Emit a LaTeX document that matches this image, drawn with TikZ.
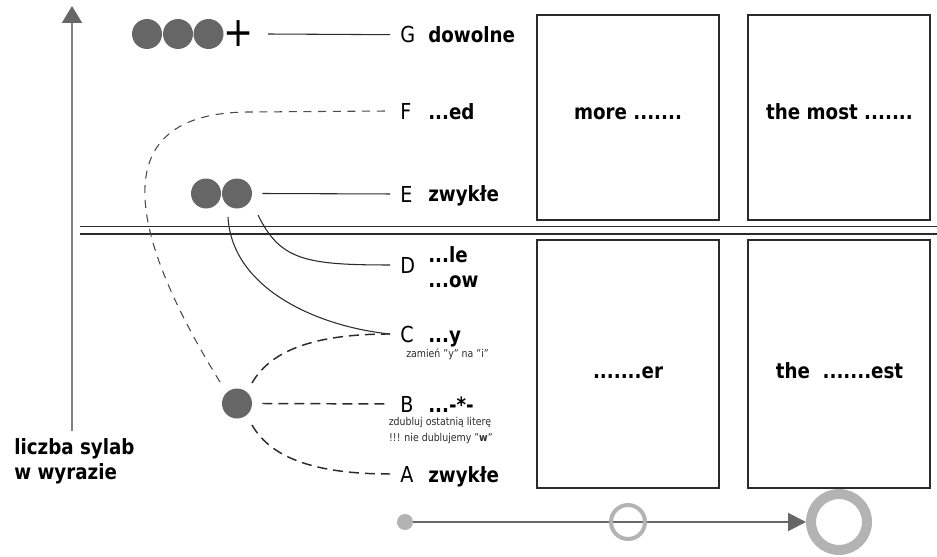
\documentclass[tikz,border=0pt]{standalone}
\usepackage{fontspec}
\setmainfont{DejaVu Sans}[FakeStretch=0.87]
\usetikzlibrary{arrows.meta,backgrounds}
\definecolor{dotc}{HTML}{666666}
\definecolor{ringc}{HTML}{B3B3B3}
\definecolor{linec}{HTML}{2B2B2B}
\definecolor{axisc}{HTML}{808080}
\newcommand{\sq}{\symbol{"22}}
\begin{document}
\begin{tikzpicture}[x=0.75pt,y=-0.75pt,
  dotn/.style={circle,fill=dotc,inner sep=0pt,minimum size=22.5pt},
  letter/.style={anchor=base west,inner sep=0pt,font=\fontsize{16.5}{19.8}\selectfont},
  lab/.style={anchor=base west,inner sep=0pt,font=\fontsize{15.75}{18.75}\selectfont\bfseries},
  note/.style={anchor=base,inner sep=0pt,text=linec,font=\fontsize{8.1}{11.25}\selectfont},
  conn/.style={draw=linec,line width=0.8pt},
  dconn/.style={draw=linec,line width=1.1pt,dash pattern=on 7.5pt off 4.5pt},
  fconn/.style={draw=linec!85,line width=0.8pt,dash pattern=on 6pt off 5pt},
  cell/.style={draw=linec,line width=1.1pt,minimum width=136.5pt,inner sep=0pt},
  celltext/.style={anchor=base,inner sep=0pt,font=\fontsize{15.75}{18.75}\selectfont\bfseries}
]
\useasboundingbox (0,0) rectangle (937,556);

% axis
\coordinate (ax0) at (72,431);
\coordinate (ax1) at (72,6);
\draw[axisc,line width=1.5pt,-{Triangle[length=12.75pt,width=15pt,color=dotc]}] (ax0) -- (ax1);
\node[anchor=north west,align=left,inner sep=0pt,font=\fontsize{15.75}{18.75}\selectfont\bfseries] (axl) at (14,438) {liczba sylab\\w wyrazie};

% double separator
\coordinate (h1a) at (80,226.5);
\coordinate (h1b) at (937,226.5);
\coordinate (h2a) at (80,234);
\coordinate (h2b) at (937,234);
\draw[linec,line width=0.9pt] (h1a) -- (h1b);
\draw[linec,line width=0.8pt] (h2a) -- (h2b);

% syllable dots
\node[dotn] (g1) at (147,34) {};
\node[dotn] (g2) at (178,34) {};
\node[dotn] (g3) at (208.5,34) {};
\node[inner sep=0pt,font=\fontsize{31}{31}\selectfont] (plus) at (239,34) {+};
\node[dotn] (e1) at (206,193.5) {};
\node[dotn] (e2) at (237,193.5) {};
\node[dotn] (b1) at (237,403.5) {};

% letters
\node[letter] (lG) at (400,42.7) {G};
\node[letter] (lF) at (400,119) {F};
\node[letter] (lE) at (400,202) {E};
\node[letter] (lD) at (400,273) {D};
\node[letter] (lC) at (400,342) {C};
\node[letter] (lB) at (400,412) {B};
\node[letter] (lA) at (400,482) {A};

% labels
\node[lab] (tG) at (428,42.7) {dowolne};
\node[lab] (tF) at (428,119) {...ed};
\node[lab] (tE) at (428,201) {zwykłe};
\node[lab] (tD1) at (428,262) {...le};
\node[lab] (tD2) at (428,287) {...ow};
\node[lab] (tC) at (428,342) {...y};
\node[lab] (tB) at (428,412) {...-*-};
\node[lab] (tA) at (428,482) {zwykłe};
\node[note] (nC) at (447.5,357) {zamień \sq y\sq{} na \sq i\sq};
\node[note] (nB1) at (440,425) {zdubluj ostatnią literę};
\node[note] (nB2) at (441,441) {!!! nie dublujemy \sq\textbf{w}\sq};

% connectors
\draw[conn] ([xshift=21.75pt]plus.center) -- ([xshift=-7.5pt]lG.west);
\draw[conn] ([xshift=7.5pt]e2.east) -- ([xshift=-7.5pt]lE.west);
\draw[conn] ([shift={(21,21.5)}]e2.center) .. controls +(22,45) and +(-85,0) .. ([xshift=-7.5pt]lD.west);
\draw[conn] ([shift={(-9,23.5)}]e2.center) .. controls +(4,73) and +(-70,-7) .. ([xshift=-7.5pt]lC.west);
\draw[fconn] ([shift={(-17,-21.5)}]b1.center) .. controls (120,220) and (110,112) .. (250,112) -- ([xshift=-7.5pt]lF.west);
\draw[dconn] ([shift={(15,-20.5)}]b1.center) .. controls +(20,-35) and +(-70,0) .. ([xshift=-7.5pt]lC.west);
\draw[dconn] ([xshift=7.5pt]b1.east) -- ([xshift=-7.5pt]lB.west);
\draw[dconn] ([shift={(15,21.5)}]b1.center) .. controls +(20,35) and +(-70,0) .. ([xshift=-7.5pt]lA.west);

% cells
\node[cell,minimum height=153.75pt] (cUL) at (628,117.5) {};
\node[cell,minimum height=153.75pt] (cUR) at (839,117.5) {};
\node[cell,minimum height=186pt] (cLL) at (628,364) {};
\node[cell,minimum height=186pt] (cLR) at (839,364) {};
\node[celltext] (xUL) at (628,120) {more .......};
\node[celltext] (xUR) at (839.5,120) {the most .......};
\node[celltext] (xLL) at (628,378.5) {.......er};
\node[celltext] (xLR) at (839.5,378.5) {the\ \ .......est};

% bottom scale
\node[circle,fill=ringc,inner sep=0pt,minimum size=12pt] (s1) at (405,522) {};
\node[circle,draw=ringc,line width=3pt,inner sep=0pt,minimum size=25.5pt] (s2) at (628,522) {};
\node[circle,draw=ringc,line width=7.5pt,inner sep=0pt,minimum size=42pt] (s3) at (839,522) {};
\begin{scope}[on background layer]
\draw[dotc,line width=1.5pt,-{Triangle[length=13.5pt,width=13.5pt]}] (s1.center) -- (s3.west);
\end{scope}
\end{tikzpicture}
\end{document}
